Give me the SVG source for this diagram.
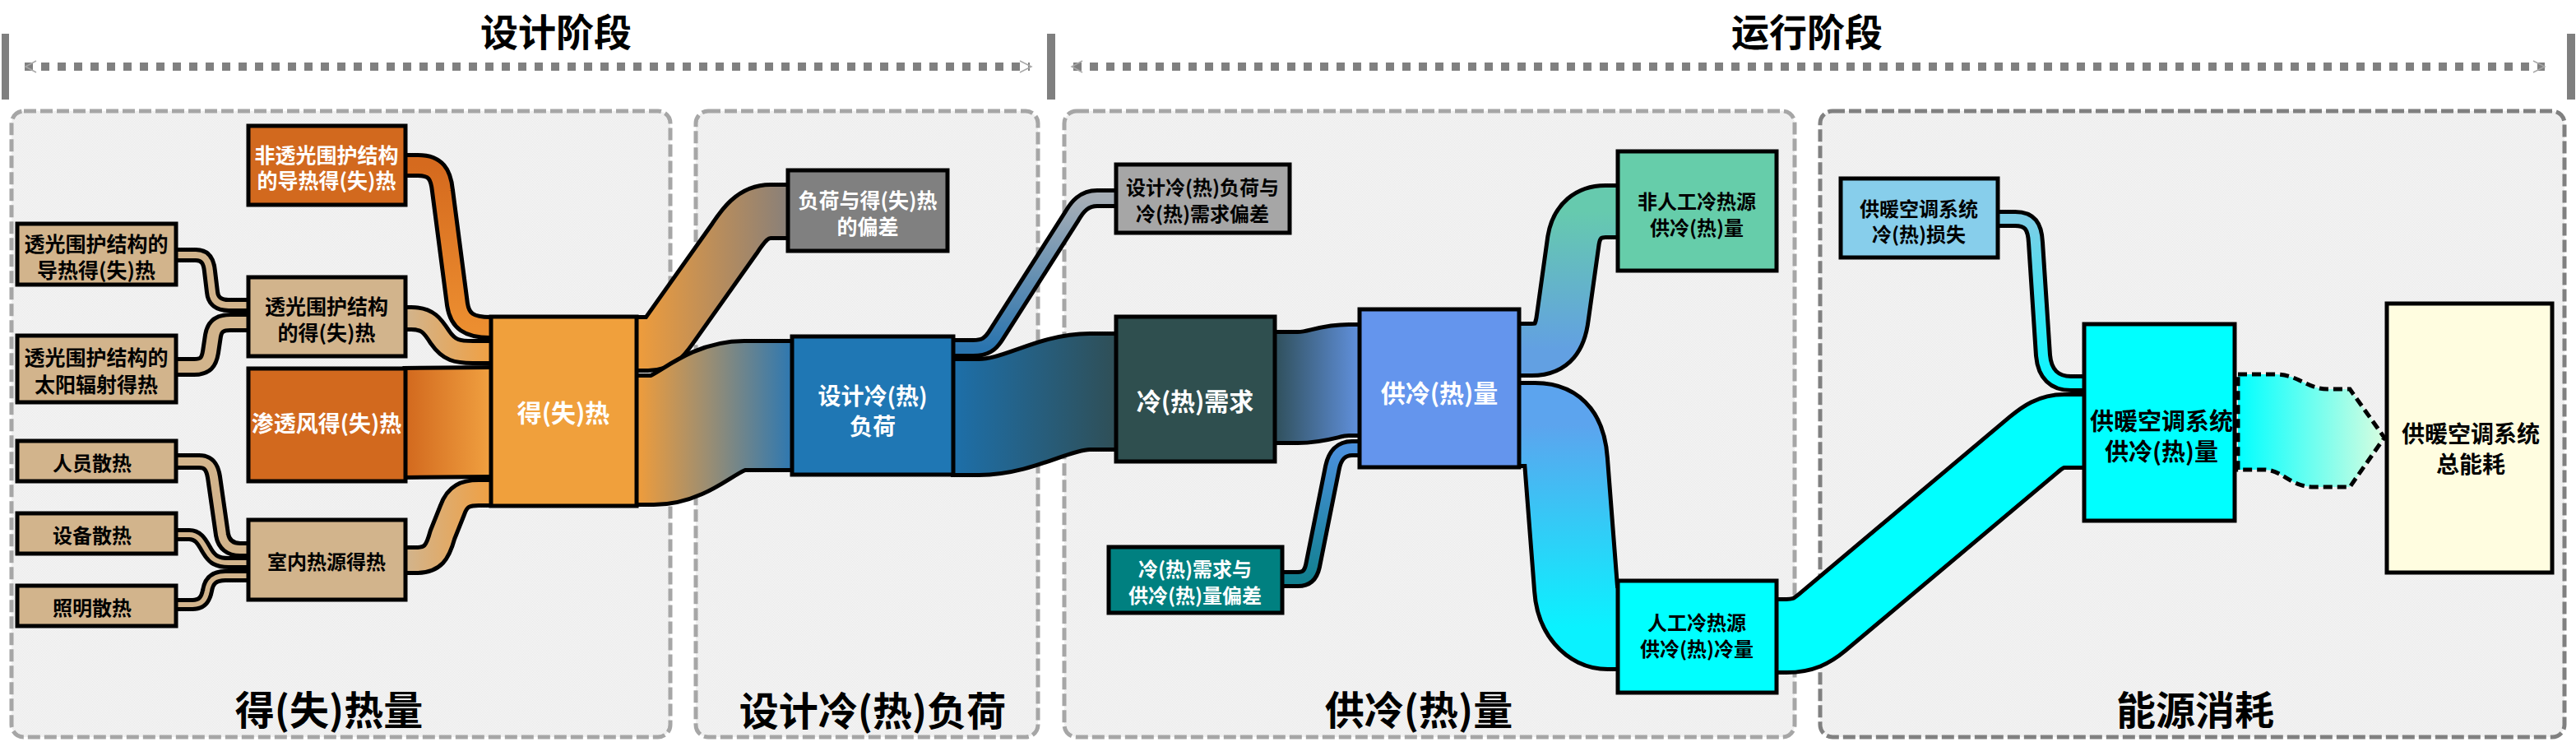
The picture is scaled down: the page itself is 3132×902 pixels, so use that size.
<svg xmlns="http://www.w3.org/2000/svg" width="3132" height="902" viewBox="0 0 3132 902">
<style>
text{font-family:"Noto Sans CJK SC","Noto Sans",sans-serif;font-weight:700;text-anchor:middle;dominant-baseline:central}
.w{fill:#fff}.k{fill:#000}
.panel{fill:url(#chk);stroke:#A6A6A6;stroke-width:5;stroke-dasharray:15 5}
.panel4{stroke:#808080}
.node rect{stroke:#000;stroke-width:5}
.o{fill:none;stroke:#000;stroke-linejoin:round}
.f{fill:none;stroke-linejoin:round}
.bar{fill:#7F7F7F}
.dl{stroke:#808080;stroke-width:10;stroke-dasharray:10 10;fill:none}
.chev{fill:none;stroke:#A8A8A8;stroke-width:1.5}
.t1{font-size:25px}.t2{font-size:24px}.t3{font-size:30px}.big{font-size:48px}
</style>
<defs>
<pattern id="chk" width="2" height="2" patternUnits="userSpaceOnUse">
<rect width="2" height="2" fill="#F9F9F9"/><rect width="1" height="1" fill="#E7E7E7"/><rect x="1" y="1" width="1" height="1" fill="#E7E7E7"/>
</pattern>
<linearGradient id="gL1" gradientUnits="userSpaceOnUse" x1="0" y1="201" x2="0" y2="398"><stop offset="0" stop-color="#D56A1E"/><stop offset="1" stop-color="#EC8E30"/></linearGradient>
<linearGradient id="gL2" gradientUnits="userSpaceOnUse" x1="494" y1="0" x2="596" y2="0"><stop offset="0" stop-color="#D2B48C"/><stop offset="1" stop-color="#EFA044"/></linearGradient>
<linearGradient id="gL3" gradientUnits="userSpaceOnUse" x1="494" y1="0" x2="596" y2="0"><stop offset="0" stop-color="#D2691E"/><stop offset="1" stop-color="#F0A040"/></linearGradient>
<linearGradient id="gL10" gradientUnits="userSpaceOnUse" x1="776" y1="0" x2="957" y2="0"><stop offset="0" stop-color="#EE9C3C"/><stop offset="1" stop-color="#8A8078"/></linearGradient>
<linearGradient id="gL11" gradientUnits="userSpaceOnUse" x1="776" y1="0" x2="962" y2="0"><stop offset="0" stop-color="#EE9C3C"/><stop offset="0.45" stop-color="#9C8E72"/><stop offset="1" stop-color="#2F78B0"/></linearGradient>
<linearGradient id="gL12" gradientUnits="userSpaceOnUse" x1="0" y1="423" x2="0" y2="241"><stop offset="0" stop-color="#2A74AE"/><stop offset="1" stop-color="#A6AEB6"/></linearGradient>
<linearGradient id="gL13" gradientUnits="userSpaceOnUse" x1="1160" y1="0" x2="1356" y2="0"><stop offset="0" stop-color="#1D6FA9"/><stop offset="1" stop-color="#2F4F57"/></linearGradient>
<linearGradient id="gL14" gradientUnits="userSpaceOnUse" x1="1551" y1="0" x2="1652" y2="0"><stop offset="0" stop-color="#30505C"/><stop offset="1" stop-color="#6090DC"/></linearGradient>
<linearGradient id="gL15" gradientUnits="userSpaceOnUse" x1="0" y1="704" x2="0" y2="545"><stop offset="0" stop-color="#128090"/><stop offset="1" stop-color="#4A90DC"/></linearGradient>
<linearGradient id="gL16" gradientUnits="userSpaceOnUse" x1="0" y1="425" x2="0" y2="257"><stop offset="0" stop-color="#62A0E2"/><stop offset="1" stop-color="#66CAAE"/></linearGradient>
<linearGradient id="gL17" gradientUnits="userSpaceOnUse" x1="0" y1="516" x2="0" y2="763"><stop offset="0" stop-color="#5CA4EE"/><stop offset="1" stop-color="#0AF2FF"/></linearGradient>
<linearGradient id="gL19" gradientUnits="userSpaceOnUse" x1="0" y1="266" x2="0" y2="466"><stop offset="0" stop-color="#7ECDE6"/><stop offset="1" stop-color="#08F8FF"/></linearGradient>
<linearGradient id="gL20" gradientUnits="userSpaceOnUse" x1="2721" y1="0" x2="2899" y2="0"><stop offset="0" stop-color="#00FFFF"/><stop offset="1" stop-color="#D8FDE0"/></linearGradient>
</defs>

<g id="stages">
<rect class="bar" x="2" y="41" width="9" height="80"/>
<rect class="bar" x="1273" y="41" width="10" height="80"/>
<rect class="bar" x="3121" y="41" width="10" height="80"/>
<path class="dl" d="M30,81 H1252"/>
<path class="dl" d="M1305,81 H3094"/>
<polyline class="chev" points="44,74 31,81 44,88"/>
<polyline class="chev" points="1240,74 1254,81 1240,88"/>
<polyline class="chev" points="1316,74 1303,81 1316,88"/>
<polyline class="chev" points="3080,74 3094,81 3080,88"/>
<text x="676" y="36" style="font-size:46px">设计阶段</text>
<text x="2197" y="36" style="font-size:46px">运行阶段</text>
</g>

<g id="panels">
<rect class="panel" x="14" y="135" width="801" height="761" rx="15"/>
<rect class="panel" x="846" y="135" width="416" height="761" rx="15"/>
<rect class="panel" x="1294" y="135" width="888" height="761" rx="15"/>
<rect class="panel panel4" x="2213" y="135" width="905" height="761" rx="15"/>
<text class="big" x="400" y="860">得(失)热量</text>
<text class="big" x="1061" y="861">设计冷(热)负荷</text>
<text class="big" x="1725" y="860">供冷(热)量</text>
<text class="big" x="2669" y="860">能源消耗</text>
</g>

<g id="connectors">
<path class="o" stroke-width="30" d="M490,201 L508,201 C530,201 536,212 538,232 L556,370 C559,390 570,398 596,398 L600,398"/>
<path class="f" stroke="url(#gL1)" stroke-width="20" d="M490,201 L508,201 C530,201 536,212 538,232 L556,370 C559,390 570,398 596,398 L600,398"/>

<path class="o" stroke-width="32" d="M490,387 L500,387 C520,387 526,396 535,410 C546,426 556,428 575,428 L600,428"/>
<path class="f" stroke="url(#gL2)" stroke-width="22" d="M490,387 L500,387 C520,387 526,396 535,410 C546,426 556,428 575,428 L600,428"/>

<path class="o" stroke-width="138" d="M490,514 L600,513"/>
<path class="f" stroke="url(#gL3)" stroke-width="128" d="M490,514 L600,513"/>

<path class="o" stroke-width="36" d="M490,681 L506,681 C526,681 532,672 538,650 L550,620 C556,603 566,599 582,599 L600,599"/>
<path class="f" stroke="url(#gL2)" stroke-width="26" d="M490,681 L506,681 C526,681 532,672 538,650 L550,620 C556,603 566,599 582,599 L600,599"/>

<path class="o" stroke-width="18" d="M211,310 L238,310 C250,310 254,318 255,330 L258,355 C259,366 266,371 278,371 L305,371"/>
<path class="f" stroke="#D2B48C" stroke-width="8" d="M211,310 L238,310 C250,310 254,318 255,330 L258,355 C259,366 266,371 278,371 L305,371"/>

<path class="o" stroke-width="24" d="M211,446 L236,446 C250,446 254,440 256,428 L259,408 C261,396 268,392 280,392 L305,392"/>
<path class="f" stroke="#D2B48C" stroke-width="14" d="M211,446 L236,446 C250,446 254,440 256,428 L259,408 C261,396 268,392 280,392 L305,392"/>

<path class="o" stroke-width="20" d="M211,561 L242,561 C254,561 258,568 260,580 L270,650 C272,662 280,668 292,668 L305,668"/>
<path class="f" stroke="#D2B48C" stroke-width="10" d="M211,561 L242,561 C254,561 258,568 260,580 L270,650 C272,662 280,668 292,668 L305,668"/>

<path class="o" stroke-width="16" d="M211,650 L230,650 C242,650 246,660 252,670 C258,680 264,684 278,684 L305,684"/>
<path class="f" stroke="#D2B48C" stroke-width="6" d="M211,650 L230,650 C242,650 246,660 252,670 C258,680 264,684 278,684 L305,684"/>

<path class="o" stroke-width="16" d="M211,735 L234,735 C246,735 250,728 252,718 C254,706 260,700 274,700 L305,700"/>
<path class="f" stroke="#D2B48C" stroke-width="6" d="M211,735 L234,735 C246,735 250,728 252,718 C254,706 260,700 274,700 L305,700"/>

<path class="o" stroke-width="70" d="M772,418 L788,418 C802,418 808,410 815,400 L893,290 C903,275 915,257 937,257 L961,257"/>
<path class="f" stroke="url(#gL10)" stroke-width="60" d="M772,418 L788,418 C802,418 808,410 815,400 L893,290 C903,275 915,257 937,257 L961,257"/>

<path class="o" stroke-width="162" d="M772,535 L795,535 C835,535 860,493 905,493 L966,493"/>
<path class="f" stroke="url(#gL11)" stroke-width="152" d="M772,535 L795,535 C835,535 860,493 905,493 L966,493"/>

<path class="o" stroke-width="24" d="M1156,423 L1183,423 C1198,423 1204,418 1210,409 L1303,263 C1310,251 1318,241 1334,241 L1360,241"/>
<path class="f" stroke="url(#gL12)" stroke-width="14" d="M1156,423 L1183,423 C1198,423 1204,418 1210,409 L1303,263 C1310,251 1318,241 1334,241 L1360,241"/>

<path class="o" stroke-width="146" d="M1156,507 L1190,507 C1240,507 1280,476 1325,476 L1360,476"/>
<path class="f" stroke="url(#gL13)" stroke-width="136" d="M1156,507 L1190,507 C1240,507 1280,476 1325,476 L1360,476"/>

<path class="o" stroke-width="140" d="M1547,471 L1578,471 C1605,471 1615,462 1640,462 L1656,462"/>
<path class="f" stroke="url(#gL14)" stroke-width="130" d="M1547,471 L1578,471 C1605,471 1615,462 1640,462 L1656,462"/>

<path class="o" stroke-width="22" d="M1556,704 L1578,704 C1590,704 1594,697 1596,688 L1620,568 C1623,554 1630,545 1644,545 L1656,545"/>
<path class="f" stroke="url(#gL15)" stroke-width="12" d="M1556,704 L1578,704 C1590,704 1594,697 1596,688 L1620,568 C1623,554 1630,545 1644,545 L1656,545"/>

<path class="o" stroke-width="68" d="M1844,425 L1862,425 C1888,425 1897,410 1900,385 L1913,292 C1917,268 1932,257 1952,257 L1969,257"/>
<path class="f" stroke="url(#gL16)" stroke-width="58" d="M1844,425 L1862,425 C1888,425 1897,410 1900,385 L1913,292 C1917,268 1932,257 1952,257 L1969,257"/>

<path class="o" stroke-width="106" d="M1844,516 L1866,516 C1893,516 1902,532 1904,560 L1916,715 C1918,745 1935,763 1955,763 L1970,763"/>
<path class="f" stroke="url(#gL17)" stroke-width="96" d="M1844,516 L1866,516 C1893,516 1902,532 1904,560 L1916,715 C1918,745 1935,763 1955,763 L1970,763"/>

<path class="o" stroke-width="94" d="M2156,773 L2172,773 C2192,773 2203,767 2215,757 L2472,541 C2484,531 2494,524 2510,524 L2537,524"/>
<path class="f" stroke="#00FFFF" stroke-width="84" d="M2156,773 L2172,773 C2192,773 2203,767 2215,757 L2472,541 C2484,531 2494,524 2510,524 L2537,524"/>

<path class="o" stroke-width="22" d="M2426,266 L2450,266 C2468,266 2474,275 2475,295 L2484,432 C2486,455 2498,466 2518,466 L2537,466"/>
<path class="f" stroke="url(#gL19)" stroke-width="12" d="M2426,266 L2450,266 C2468,266 2474,275 2475,295 L2484,432 C2486,455 2498,466 2518,466 L2537,466"/>

<path fill="url(#gL20)" stroke="#000" stroke-width="5" stroke-dasharray="11 6" d="M2721,455 L2765,455 C2795,455 2805,473 2830,473 L2857,473 L2899,532 L2857,592 L2813,592 C2785,592 2775,571 2753,571 L2721,571 Z"/>
</g>

<g id="n1" class="node"><rect x="302" y="153" width="191" height="96" fill="#D2691E"/><text class="t1 w" x="397" y="187">非透光围护结构</text><text class="t1 w" x="397" y="218">的导热得(失)热</text></g>
<g id="n2" class="node"><rect x="21" y="272" width="193" height="74" fill="#D2B48C"/><text class="t1 k" x="117" y="295">透光围护结构的</text><text class="t1 k" x="117" y="327">导热得(失)热</text></g>
<g id="n3" class="node"><rect x="21" y="408" width="193" height="81" fill="#D2B48C"/><text class="t1 k" x="117" y="433">透光围护结构的</text><text class="t1 k" x="117" y="466">太阳辐射得热</text></g>
<g id="n4" class="node"><rect x="302" y="337" width="191" height="96" fill="#D2B48C"/><text class="t1 k" x="397" y="371">透光围护结构</text><text class="t1 k" x="397" y="403">的得(失)热</text></g>
<g id="n5" class="node"><rect x="302" y="448" width="191" height="137" fill="#D2691E"/><text class="w" style="font-size:27px" x="397" y="513">渗透风得(失)热</text></g>
<g id="n6" class="node"><rect x="597" y="385" width="177" height="230" fill="#F0A03C"/><text class="t3 w" x="685" y="500">得(失)热</text></g>
<g id="n7" class="node"><rect x="21" y="536" width="193" height="49" fill="#D2B48C"/><text class="t2 k" x="112" y="561">人员散热</text></g>
<g id="n8" class="node"><rect x="21" y="624" width="193" height="49" fill="#D2B48C"/><text class="t2 k" x="112" y="649">设备散热</text></g>
<g id="n9" class="node"><rect x="21" y="712" width="193" height="49" fill="#D2B48C"/><text class="t2 k" x="112" y="737">照明散热</text></g>
<g id="n10" class="node"><rect x="302" y="632" width="191" height="97" fill="#D2B48C"/><text class="t2 k" x="397" y="681">室内热源得热</text></g>
<g id="n11" class="node"><rect x="958" y="207" width="194" height="98" fill="#808080"/><text class="w" style="font-size:25px" x="1055" y="242">负荷与得(失)热</text><text class="w" style="font-size:25px" x="1055" y="274">的偏差</text></g>
<g id="n12" class="node"><rect x="963" y="409" width="196" height="168" fill="#1F77B4"/><text class="w" style="font-size:28px" x="1061" y="480">设计冷(热)</text><text class="w" style="font-size:28px" x="1061" y="517">负荷</text></g>
<g id="n13" class="node"><rect x="1357" y="200" width="211" height="83" fill="#A6A6A6"/><text class="t2 k" x="1462" y="226">设计冷(热)负荷与</text><text class="t2 k" x="1462" y="258">冷(热)需求偏差</text></g>
<g id="n14" class="node"><rect x="1357" y="385" width="193" height="176" fill="#2F4F4F"/><text class="t3 w" x="1453" y="486">冷(热)需求</text></g>
<g id="n15" class="node"><rect x="1653" y="376" width="194" height="192" fill="#6495ED"/><text class="t3 w" x="1750" y="476">供冷(热)量</text></g>
<g id="n16" class="node"><rect x="1348" y="665" width="211" height="80" fill="#008080"/><text class="t2 w" x="1453" y="690">冷(热)需求与</text><text class="t2 w" x="1453" y="722">供冷(热)量偏差</text></g>
<g id="n17" class="node"><rect x="1967" y="184" width="193" height="145" fill="#66CDAA"/><text class="t2 k" x="2063" y="243">非人工冷热源</text><text class="t2 k" x="2063" y="275">供冷(热)量</text></g>
<g id="n18" class="node"><rect x="1967" y="706" width="193" height="136" fill="#00FFFF"/><text class="t2 k" x="2063" y="755">人工冷热源</text><text class="t2 k" x="2063" y="787">供冷(热)冷量</text></g>
<g id="n19" class="node"><rect x="2238" y="217" width="191" height="96" fill="#87CEEB"/><text class="t2 k" x="2333" y="252">供暖空调系统</text><text class="t2 k" x="2333" y="283">冷(热)损失</text></g>
<g id="n20" class="node"><rect x="2534" y="394" width="183" height="239" fill="#00FFFF"/><text class="k" style="font-size:29px" x="2628" y="510">供暖空调系统</text><text class="k" style="font-size:29px" x="2628" y="547">供冷(热)量</text></g>
<g id="n21" class="node"><rect x="2902" y="369" width="201" height="327" fill="#FFFDE0"/><text class="k" style="font-size:28px" x="3004" y="526">供暖空调系统</text><text class="k" style="font-size:28px" x="3004" y="563">总能耗</text></g>
</svg>
